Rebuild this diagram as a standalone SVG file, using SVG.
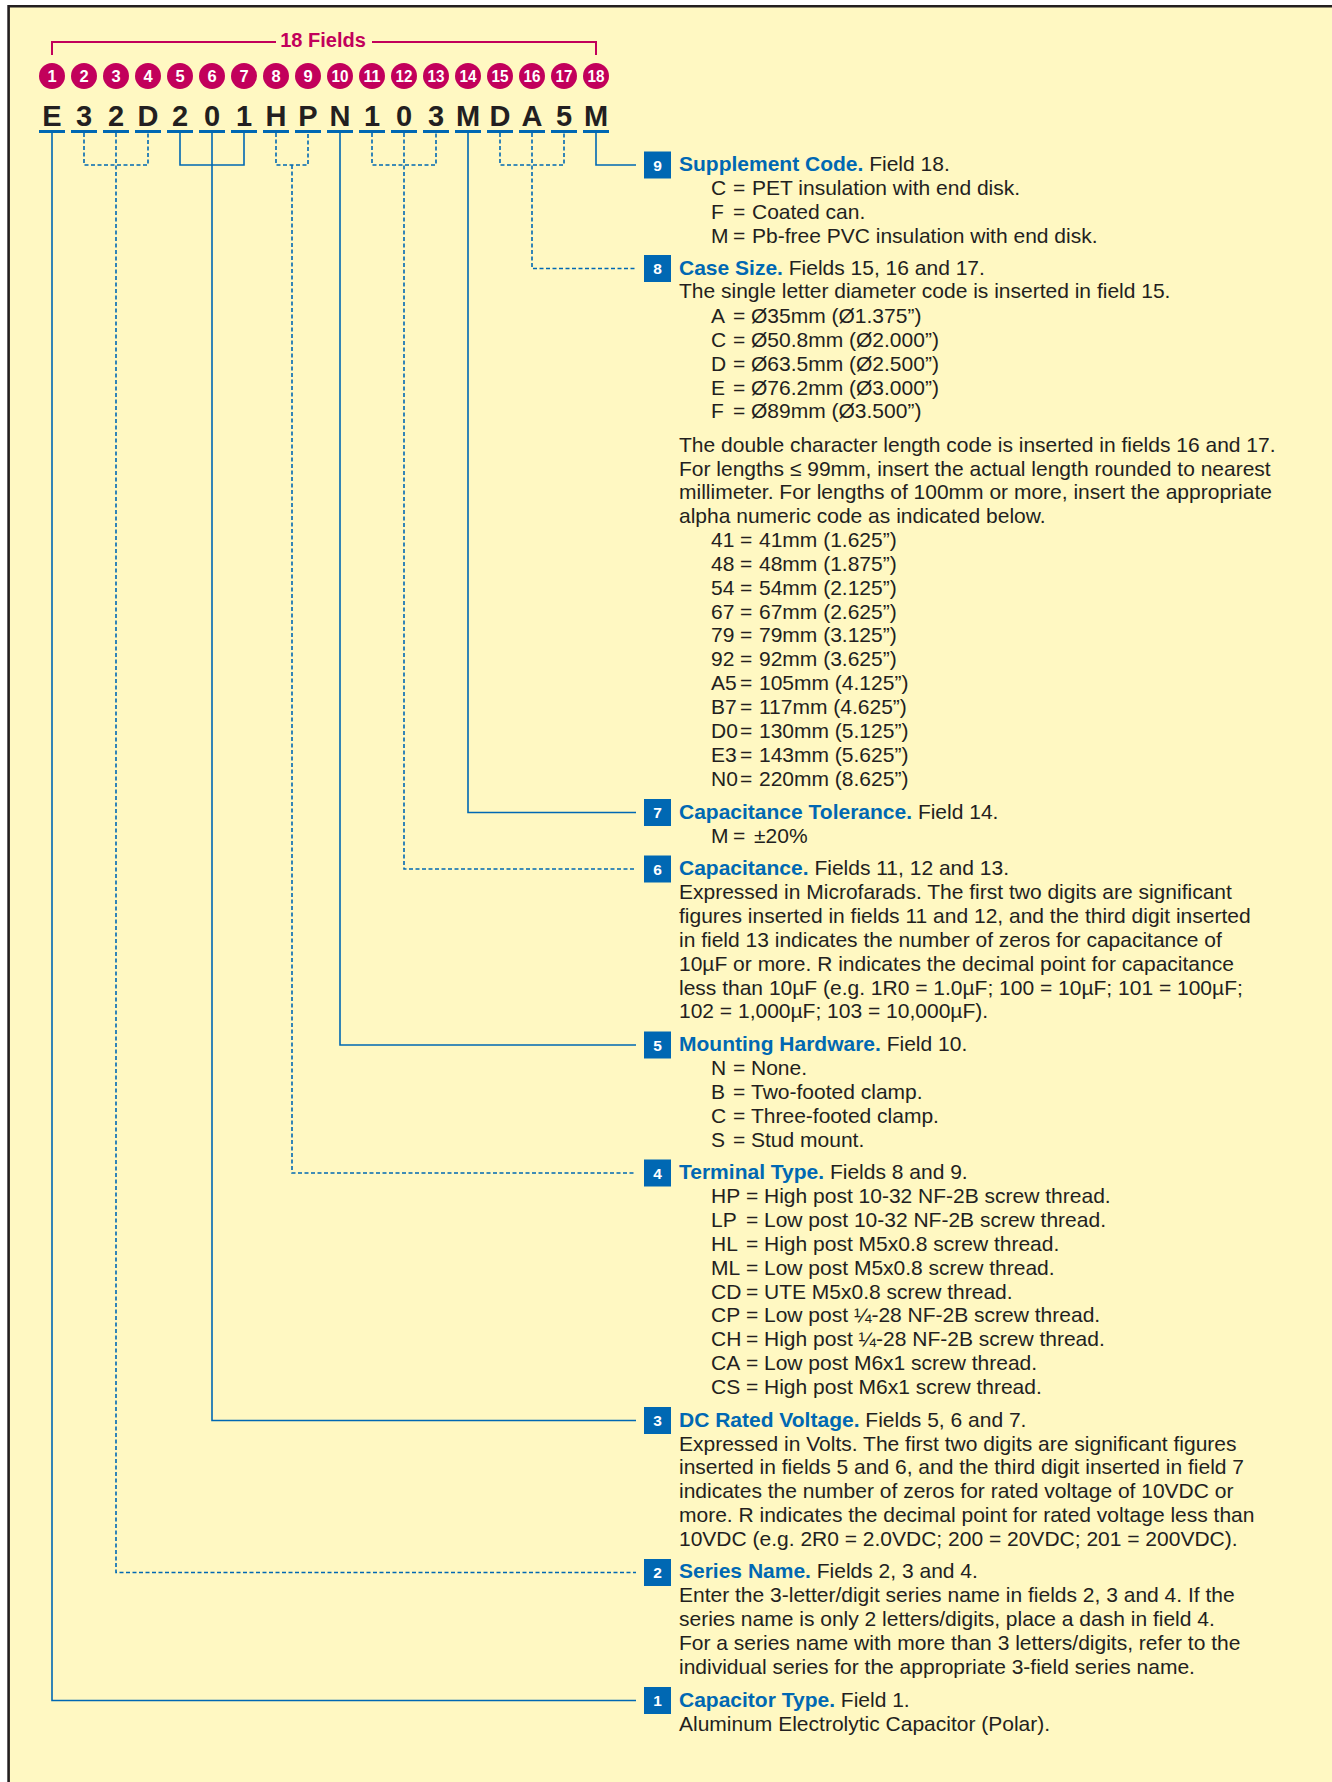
<svg xmlns="http://www.w3.org/2000/svg" width="1332" height="1782" viewBox="0 0 1332 1782">
<style>
.bg{fill:#fff8c2}
.frame{stroke:#231f20;stroke-width:2.6;fill:none}
.mg{stroke:#c2005b;stroke-width:2;fill:none}
.circ{fill:#c2005b}
.cn{font-family:"Liberation Sans",Arial,sans-serif;font-weight:bold;font-size:16.5px;fill:#fff;text-anchor:middle}
.ft{font-family:"Liberation Sans",Arial,sans-serif;font-weight:bold;font-size:20px;fill:#c2005b;text-anchor:middle}
.code{font-family:"Liberation Sans",Arial,sans-serif;font-weight:bold;font-size:29px;fill:#231f20;text-anchor:middle}
.ul{fill:#0068b3}
.s{stroke:#0068b3;stroke-width:1.6;fill:none}
.d{stroke:#0068b3;stroke-width:1.6;fill:none;stroke-dasharray:4 2.5}
.box{fill:#0068b3}
.bn{font-family:"Liberation Sans",Arial,sans-serif;font-weight:bold;font-size:15.5px;fill:#fff;text-anchor:middle}
.t{font-family:"Liberation Sans",Arial,sans-serif;font-size:21px;fill:#231f20}
.h{font-weight:bold;fill:#0068b3}
</style>
<rect x="0" y="0" width="1332" height="1782" fill="#ffffff"/>
<rect class="bg" x="8.6" y="6.3" width="1323.4" height="1775.7"/>
<path class="frame" d="M8.6,1782 V6.3 H1332"/>

<g id="header">
<path class="mg" d="M52,55 V42 H276 M372,42 H596 V55"/>
<text class="ft" x="323" y="47">18 Fields</text>
<g id="field-numbers">
<circle class="circ" cx="52" cy="76" r="13"/><text class="cn" x="52" y="82">1</text>
<circle class="circ" cx="84" cy="76" r="13"/><text class="cn" x="84" y="82">2</text>
<circle class="circ" cx="116" cy="76" r="13"/><text class="cn" x="116" y="82">3</text>
<circle class="circ" cx="148" cy="76" r="13"/><text class="cn" x="148" y="82">4</text>
<circle class="circ" cx="180" cy="76" r="13"/><text class="cn" x="180" y="82">5</text>
<circle class="circ" cx="212" cy="76" r="13"/><text class="cn" x="212" y="82">6</text>
<circle class="circ" cx="244" cy="76" r="13"/><text class="cn" x="244" y="82">7</text>
<circle class="circ" cx="276" cy="76" r="13"/><text class="cn" x="276" y="82">8</text>
<circle class="circ" cx="308" cy="76" r="13"/><text class="cn" x="308" y="82">9</text>
<circle class="circ" cx="340" cy="76" r="13"/><text class="cn" x="340" y="82" textLength="17" lengthAdjust="spacingAndGlyphs">10</text>
<circle class="circ" cx="372" cy="76" r="13"/><text class="cn" x="372" y="82" textLength="17" lengthAdjust="spacingAndGlyphs">11</text>
<circle class="circ" cx="404" cy="76" r="13"/><text class="cn" x="404" y="82" textLength="17" lengthAdjust="spacingAndGlyphs">12</text>
<circle class="circ" cx="436" cy="76" r="13"/><text class="cn" x="436" y="82" textLength="17" lengthAdjust="spacingAndGlyphs">13</text>
<circle class="circ" cx="468" cy="76" r="13"/><text class="cn" x="468" y="82" textLength="17" lengthAdjust="spacingAndGlyphs">14</text>
<circle class="circ" cx="500" cy="76" r="13"/><text class="cn" x="500" y="82" textLength="17" lengthAdjust="spacingAndGlyphs">15</text>
<circle class="circ" cx="532" cy="76" r="13"/><text class="cn" x="532" y="82" textLength="17" lengthAdjust="spacingAndGlyphs">16</text>
<circle class="circ" cx="564" cy="76" r="13"/><text class="cn" x="564" y="82" textLength="17" lengthAdjust="spacingAndGlyphs">17</text>
<circle class="circ" cx="596" cy="76" r="13"/><text class="cn" x="596" y="82" textLength="17" lengthAdjust="spacingAndGlyphs">18</text>
</g>
<g id="code">
<text class="code" x="52" y="125.5">E</text>
<text class="code" x="84" y="125.5">3</text>
<text class="code" x="116" y="125.5">2</text>
<text class="code" x="148" y="125.5">D</text>
<text class="code" x="180" y="125.5">2</text>
<text class="code" x="212" y="125.5">0</text>
<text class="code" x="244" y="125.5">1</text>
<text class="code" x="276" y="125.5">H</text>
<text class="code" x="308" y="125.5">P</text>
<text class="code" x="340" y="125.5">N</text>
<text class="code" x="372" y="125.5">1</text>
<text class="code" x="404" y="125.5">0</text>
<text class="code" x="436" y="125.5">3</text>
<text class="code" x="468" y="125.5">M</text>
<text class="code" x="500" y="125.5">D</text>
<text class="code" x="532" y="125.5">A</text>
<text class="code" x="564" y="125.5">5</text>
<text class="code" x="596" y="125.5">M</text>
</g>
<g id="underlines">
<rect class="ul" x="39" y="130" width="26" height="3"/>
<rect class="ul" x="71" y="130" width="26" height="3"/>
<rect class="ul" x="103" y="130" width="26" height="3"/>
<rect class="ul" x="135" y="130" width="26" height="3"/>
<rect class="ul" x="167" y="130" width="26" height="3"/>
<rect class="ul" x="199" y="130" width="26" height="3"/>
<rect class="ul" x="231" y="130" width="26" height="3"/>
<rect class="ul" x="263" y="130" width="26" height="3"/>
<rect class="ul" x="295" y="130" width="26" height="3"/>
<rect class="ul" x="327" y="130" width="26" height="3"/>
<rect class="ul" x="359" y="130" width="26" height="3"/>
<rect class="ul" x="391" y="130" width="26" height="3"/>
<rect class="ul" x="423" y="130" width="26" height="3"/>
<rect class="ul" x="455" y="130" width="26" height="3"/>
<rect class="ul" x="487" y="130" width="26" height="3"/>
<rect class="ul" x="519" y="130" width="26" height="3"/>
<rect class="ul" x="551" y="130" width="26" height="3"/>
<rect class="ul" x="583" y="130" width="26" height="3"/>
</g>
</g>

<g id="connectors">
<path class="s" d="M596,133 V165 H636"/>
<path class="d" d="M500,133 V165 H564 V133 M532,133 V268.5 H636"/>
<path class="s" d="M468,133 V812.5 H636"/>
<path class="d" d="M372,133 V165 H436 V133 M404,133 V869 H636"/>
<path class="s" d="M340,133 V1045 H636"/>
<path class="d" d="M276,133 V165 H308 V133 M292,165 V1173 H636"/>
<path class="s" d="M180,133 V165 H244 V133 M212,133 V1420.5 H636"/>
<path class="d" d="M84,133 V165 H148 V133 M116,133 V1572.5 H636"/>
<path class="s" d="M52,133 V1700.5 H636"/>
</g>

<g id="section-9">
<rect class="box" x="644" y="151.5" width="27" height="27"/><text class="bn" x="657.5" y="170.5">9</text>
<text class="t" x="679" y="171"><tspan class="h">Supplement Code.</tspan> Field 18.</text>
<text class="t" y="195"><tspan x="711">C</tspan><tspan x="733">=</tspan><tspan x="752">PET insulation with end disk.</tspan></text>
<text class="t" y="219"><tspan x="711">F</tspan><tspan x="733">=</tspan><tspan x="752">Coated can.</tspan></text>
<text class="t" y="243"><tspan x="711">M</tspan><tspan x="733">=</tspan><tspan x="752">Pb-free PVC insulation with end disk.</tspan></text>
</g>

<g id="section-8">
<rect class="box" x="644" y="255" width="27" height="27"/><text class="bn" x="657.5" y="274">8</text>
<text class="t" x="679" y="274.5"><tspan class="h">Case Size.</tspan> Fields 15, 16 and 17.</text>
<text class="t" x="679" y="298.4">The single letter diameter code is inserted in field 15.</text>
<text class="t" y="322.6"><tspan x="711">A</tspan><tspan x="733">=</tspan><tspan x="751">Ø35mm (Ø1.375”)</tspan></text>
<text class="t" y="346.6"><tspan x="711">C</tspan><tspan x="733">=</tspan><tspan x="751">Ø50.8mm (Ø2.000”)</tspan></text>
<text class="t" y="370.6"><tspan x="711">D</tspan><tspan x="733">=</tspan><tspan x="751">Ø63.5mm (Ø2.500”)</tspan></text>
<text class="t" y="394.6"><tspan x="711">E</tspan><tspan x="733">=</tspan><tspan x="751">Ø76.2mm (Ø3.000”)</tspan></text>
<text class="t" y="418.4"><tspan x="711">F</tspan><tspan x="733">=</tspan><tspan x="751">Ø89mm (Ø3.500”)</tspan></text>
<text class="t" x="679" y="451.7">The double character length code is inserted in fields 16 and 17.</text>
<text class="t" x="679" y="475.5">For lengths ≤ 99mm, insert the actual length rounded to nearest</text>
<text class="t" x="679" y="499.3">millimeter. For lengths of 100mm or more, insert the appropriate</text>
<text class="t" x="679" y="523.1">alpha numeric code as indicated below.</text>
<text class="t" y="547"><tspan x="711">41</tspan><tspan x="740">=</tspan><tspan x="759">41mm (1.625”)</tspan></text>
<text class="t" y="570.8"><tspan x="711">48</tspan><tspan x="740">=</tspan><tspan x="759">48mm (1.875”)</tspan></text>
<text class="t" y="594.7"><tspan x="711">54</tspan><tspan x="740">=</tspan><tspan x="759">54mm (2.125”)</tspan></text>
<text class="t" y="618.5"><tspan x="711">67</tspan><tspan x="740">=</tspan><tspan x="759">67mm (2.625”)</tspan></text>
<text class="t" y="642.4"><tspan x="711">79</tspan><tspan x="740">=</tspan><tspan x="759">79mm (3.125”)</tspan></text>
<text class="t" y="666.2"><tspan x="711">92</tspan><tspan x="740">=</tspan><tspan x="759">92mm (3.625”)</tspan></text>
<text class="t" y="690.1"><tspan x="711">A5</tspan><tspan x="740">=</tspan><tspan x="759">105mm (4.125”)</tspan></text>
<text class="t" y="714"><tspan x="711">B7</tspan><tspan x="740">=</tspan><tspan x="759">117mm (4.625”)</tspan></text>
<text class="t" y="737.8"><tspan x="711">D0</tspan><tspan x="740">=</tspan><tspan x="759">130mm (5.125”)</tspan></text>
<text class="t" y="761.7"><tspan x="711">E3</tspan><tspan x="740">=</tspan><tspan x="759">143mm (5.625”)</tspan></text>
<text class="t" y="785.6"><tspan x="711">N0</tspan><tspan x="740">=</tspan><tspan x="759">220mm (8.625”)</tspan></text>
</g>

<g id="section-7">
<rect class="box" x="644" y="799" width="27" height="27"/><text class="bn" x="657.5" y="818">7</text>
<text class="t" x="679" y="819"><tspan class="h">Capacitance Tolerance.</tspan> Field 14.</text>
<text class="t" y="842.8"><tspan x="711">M</tspan><tspan x="733">=</tspan><tspan x="754">±20%</tspan></text>
</g>

<g id="section-6">
<rect class="box" x="644" y="855.5" width="27" height="27"/><text class="bn" x="657.5" y="874.5">6</text>
<text class="t" x="679" y="875"><tspan class="h">Capacitance.</tspan> Fields 11, 12 and 13.</text>
<text class="t" x="679" y="898.9">Expressed in Microfarads. The first two digits are significant</text>
<text class="t" x="679" y="922.8">figures inserted in fields 11 and 12, and the third digit inserted</text>
<text class="t" x="679" y="946.7">in field 13 indicates the number of zeros for capacitance of</text>
<text class="t" x="679" y="970.6">10µF or more. R indicates the decimal point for capacitance</text>
<text class="t" x="679" y="994.5">less than 10µF (e.g. 1R0 = 1.0µF; 100 = 10µF; 101 = 100µF;</text>
<text class="t" x="679" y="1018.4">102 = 1,000µF; 103 = 10,000µF).</text>
</g>

<g id="section-5">
<rect class="box" x="644" y="1031.5" width="27" height="27"/><text class="bn" x="657.5" y="1050.5">5</text>
<text class="t" x="679" y="1051"><tspan class="h">Mounting Hardware.</tspan> Field 10.</text>
<text class="t" y="1074.9"><tspan x="711">N</tspan><tspan x="733">=</tspan><tspan x="751">None.</tspan></text>
<text class="t" y="1098.8"><tspan x="711">B</tspan><tspan x="733">=</tspan><tspan x="751">Two-footed clamp.</tspan></text>
<text class="t" y="1122.7"><tspan x="711">C</tspan><tspan x="733">=</tspan><tspan x="751">Three-footed clamp.</tspan></text>
<text class="t" y="1146.6"><tspan x="711">S</tspan><tspan x="733">=</tspan><tspan x="751">Stud mount.</tspan></text>
</g>

<g id="section-4">
<rect class="box" x="644" y="1159.5" width="27" height="27"/><text class="bn" x="657.5" y="1178.5">4</text>
<text class="t" x="679" y="1179"><tspan class="h">Terminal Type.</tspan> Fields 8 and 9.</text>
<text class="t" y="1202.9"><tspan x="711">HP</tspan><tspan x="746">=</tspan><tspan x="764">High post 10-32 NF-2B screw thread.</tspan></text>
<text class="t" y="1226.8"><tspan x="711">LP</tspan><tspan x="746">=</tspan><tspan x="764">Low post 10-32 NF-2B screw thread.</tspan></text>
<text class="t" y="1250.7"><tspan x="711">HL</tspan><tspan x="746">=</tspan><tspan x="764">High post M5x0.8 screw thread.</tspan></text>
<text class="t" y="1274.6"><tspan x="711">ML</tspan><tspan x="746">=</tspan><tspan x="764">Low post M5x0.8 screw thread.</tspan></text>
<text class="t" y="1298.5"><tspan x="711">CD</tspan><tspan x="746">=</tspan><tspan x="764">UTE M5x0.8 screw thread.</tspan></text>
<text class="t" y="1322.4"><tspan x="711">CP</tspan><tspan x="746">=</tspan><tspan x="764">Low post ¼-28 NF-2B screw thread.</tspan></text>
<text class="t" y="1346.3"><tspan x="711">CH</tspan><tspan x="746">=</tspan><tspan x="764">High post ¼-28 NF-2B screw thread.</tspan></text>
<text class="t" y="1370.2"><tspan x="711">CA</tspan><tspan x="746">=</tspan><tspan x="764">Low post M6x1 screw thread.</tspan></text>
<text class="t" y="1394.1"><tspan x="711">CS</tspan><tspan x="746">=</tspan><tspan x="764">High post M6x1 screw thread.</tspan></text>
</g>

<g id="section-3">
<rect class="box" x="644" y="1407" width="27" height="27"/><text class="bn" x="657.5" y="1426">3</text>
<text class="t" x="679" y="1426.6"><tspan class="h">DC Rated Voltage.</tspan> Fields 5, 6 and 7.</text>
<text class="t" x="679" y="1450.5">Expressed in Volts. The first two digits are significant figures</text>
<text class="t" x="679" y="1474.4">inserted in fields 5 and 6, and the third digit inserted in field 7</text>
<text class="t" x="679" y="1498.3">indicates the number of zeros for rated voltage of 10VDC or</text>
<text class="t" x="679" y="1522.2">more. R indicates the decimal point for rated voltage less than</text>
<text class="t" x="679" y="1546.3">10VDC (e.g. 2R0 = 2.0VDC; 200 = 20VDC; 201 = 200VDC).</text>
</g>

<g id="section-2">
<rect class="box" x="644" y="1559" width="27" height="27"/><text class="bn" x="657.5" y="1578">2</text>
<text class="t" x="679" y="1578.4"><tspan class="h">Series Name.</tspan> Fields 2, 3 and 4.</text>
<text class="t" x="679" y="1602.3">Enter the 3-letter/digit series name in fields 2, 3 and 4. If the</text>
<text class="t" x="679" y="1626.2">series name is only 2 letters/digits, place a dash in field 4.</text>
<text class="t" x="679" y="1650.1">For a series name with more than 3 letters/digits, refer to the</text>
<text class="t" x="679" y="1674">individual series for the appropriate 3-field series name.</text>
</g>

<g id="section-1">
<rect class="box" x="644" y="1687" width="27" height="27"/><text class="bn" x="657.5" y="1706">1</text>
<text class="t" x="679" y="1706.6"><tspan class="h">Capacitor Type.</tspan> Field 1.</text>
<text class="t" x="679" y="1730.5">Aluminum Electrolytic Capacitor (Polar).</text>
</g>
</svg>
